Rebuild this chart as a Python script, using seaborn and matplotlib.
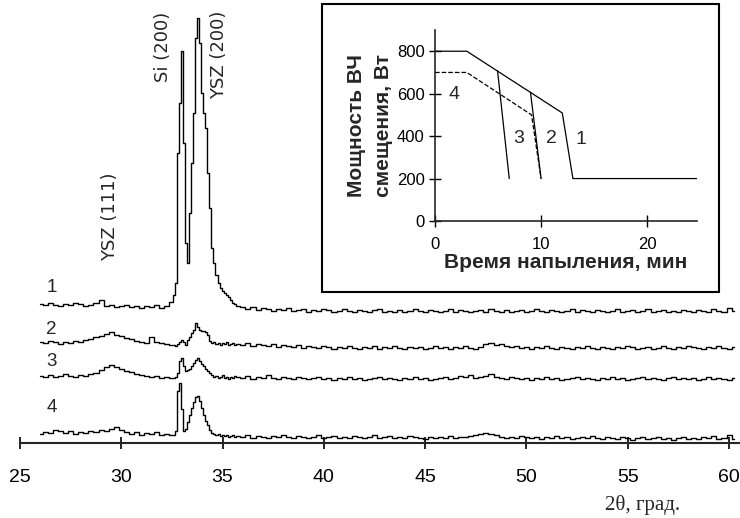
"""
XRD patterns of YSZ films (curves 1-4) with inset: RF bias power vs deposition time.
"""
import numpy as np
import pandas as pd
import matplotlib
matplotlib.use("Agg")
import matplotlib.pyplot as plt
from matplotlib.patches import Rectangle
import seaborn as sns

# ─── 2θ sampling grid ────────────────────────────────────────────────────────
X_LEFT = np.round(np.arange(26.0, 32.51, 0.25), 2)    # 27 points
X_PEAK = np.round(np.arange(32.6, 35.61, 0.1), 2)     # 31 points
X_RIGHT = np.round(np.arange(35.75, 60.26, 0.25), 2)  # 99 points

# ─── Intensities (offset curves, arbitrary units) ────────────────────────────
c1_left = [139, 138, 140, 138, 137, 139, 138, 140, 139, 137,
           138, 140, 143, 137, 138, 136, 137, 138, 136, 137,
           135, 137, 136, 138, 135, 137, 141]
c1_peak = [148, 160, 290, 340, 392, 300, 200, 180, 230, 280,
           330, 405, 425, 400, 350, 330, 315, 270, 235, 195,
           180, 168, 160, 155, 152, 150, 148, 146, 143, 140, 139]
c1_right = [137, 136, 134, 136, 133, 135, 134, 132, 134, 133,
            135, 132, 133, 134, 131, 133, 132, 134, 133, 131,
            132, 134, 132, 131, 133, 132, 131, 133, 134, 131,
            132, 131, 133, 131, 132, 134, 132, 131, 133, 132,
            131, 132, 134, 131, 133, 132, 131, 132, 133, 131,
            134, 132, 131, 133, 131, 132, 133, 131, 132, 134,
            132, 131, 133, 132, 131, 132, 134, 131, 133, 132,
            131, 133, 132, 131, 132, 134, 131, 132, 133, 131,
            132, 134, 131, 132, 133, 131, 132, 131, 133, 132,
            131, 133, 132, 131, 134, 132, 131, 135, 132]

c2_left = [101, 100, 102, 101, 99, 101, 100, 102, 101, 103,
           104, 106, 107, 109, 111, 108, 107, 105, 104, 102,
           101, 100, 106, 101, 100, 99, 98]
c2_peak = [98, 97, 99, 101, 103, 101, 98, 103, 106, 110,
           113, 120, 116, 113, 112, 112, 111, 108, 102, 100,
           101, 99, 100, 98, 100, 99, 101, 98, 99, 100, 98]
c2_right = [99, 98, 100, 97, 99, 98, 97, 99, 96, 98,
            97, 96, 98, 95, 97, 96, 95, 97, 96, 94,
            96, 95, 97, 95, 94, 96, 95, 97, 94, 96,
            95, 97, 95, 94, 96, 95, 96, 94, 95, 97,
            95, 96, 94, 96, 95, 97, 95, 94, 96, 99,
            100, 98, 99, 97, 96, 97, 95, 96, 94, 96,
            95, 97, 95, 94, 96, 95, 94, 96, 95, 97,
            95, 94, 96, 95, 94, 96, 95, 97, 96, 94,
            95, 96, 94, 95, 97, 95, 94, 96, 95, 97,
            96, 95, 94, 96, 95, 97, 95, 94, 96]

c3_left = [67, 66, 68, 66, 67, 69, 67, 66, 68, 67,
           69, 70, 73, 76, 78, 76, 74, 72, 71, 69,
           68, 67, 66, 67, 65, 66, 65]
c3_peak = [65, 66, 70, 82, 85, 77, 72, 73, 74, 77,
           80, 83, 85, 82, 79, 77, 74, 72, 70, 68,
           66, 67, 65, 66, 68, 65, 66, 64, 66, 65, 67]
c3_right = [66, 65, 67, 64, 66, 65, 68, 65, 64, 66,
            65, 64, 66, 65, 64, 65, 66, 64, 65, 63,
            65, 64, 66, 64, 65, 63, 64, 65, 66, 64,
            65, 64, 63, 65, 64, 66, 64, 65, 63, 64,
            65, 66, 64, 65, 67, 66, 68, 65, 66, 67,
            69, 66, 65, 64, 66, 65, 64, 65, 63, 65,
            64, 66, 64, 65, 63, 64, 65, 66, 64, 65,
            64, 63, 65, 64, 66, 64, 65, 63, 64, 65,
            66, 64, 65, 64, 63, 65, 66, 64, 65, 64,
            65, 63, 64, 66, 64, 65, 64, 63, 65]

c4_left = [9, 11, 10, 13, 12, 10, 12, 9, 11, 10,
           12, 11, 13, 12, 14, 16, 13, 11, 9, 11,
           8, 10, 9, 11, 8, 9, 8]
c4_peak = [8, 12, 52, 60, 34, 12, 14, 21, 28, 35,
           41, 46, 47, 42, 35, 28, 22, 18, 13, 10,
           9, 8, 9, 7, 8, 7, 8, 6, 7, 8, 6]
c4_right = [7, 6, 8, 5, 7, 6, 5, 7, 6, 8,
            6, 5, 7, 6, 5, 6, 8, 5, 6, 7,
            5, 6, 5, 7, 6, 5, 6, 8, 5, 6,
            7, 5, 6, 5, 7, 6, 5, 4, 6, 5,
            6, 5, 7, 5, 6, 6, 7, 8, 9, 10,
            9, 8, 6, 5, 6, 5, 7, 6, 5, 6,
            4, 6, 5, 7, 5, 6, 4, 5, 6, 5,
            7, 5, 4, 6, 5, 4, 6, 5, 3, 5,
            6, 4, 5, 6, 4, 5, 3, 5, 6, 4,
            5, 4, 6, 5, 7, 4, 5, 8, 4]

CURVE_NAMES = ["1", "2", "3", "4"]
CURVE_LABEL_Y = [155, 113, 81, 35]

PEAK_NAMES = ["YSZ (111)", "Si (200)", "YSZ (200)"]
PEAK_POS = [29.43, 32.04, 34.8]
PEAK_LABEL_Y = [226, 396, 388]

TICKS_2THETA = [25, 30, 35, 40, 45, 50, 55, 60]

# ─── Inset: RF bias power vs time ────────────────────────────────────────────
t1, p1 = [0, 3, 12, 13, 24.7], [800, 800, 509, 200, 200]
t2, p2 = [9, 10], [607, 200]
t3, p3 = [5.9, 7], [707, 200]
t4, p4 = [0, 3, 9.1, 10], [700, 700, 500, 200]
INSET_NAMES = ["1", "2", "3", "4"]
INSET_LABEL_T = [13.8, 11.0, 7.9, 1.8]
INSET_LABEL_P = [383, 387, 387, 595]

# ─── Style ───────────────────────────────────────────────────────────────────
sns.set_style("white")
plt.rcParams["font.family"] = ["Liberation Sans", "DejaVu Sans"]

W, H = 740, 518
fig = plt.figure(figsize=(W / 100, H / 100), dpi=100)
ax = fig.add_axes([20 / W, 1 - 443 / H, 720 / W, 443 / H])

x_all = np.concatenate([X_LEFT, X_PEAK, X_RIGHT])
frames = []
for name, parts in zip(CURVE_NAMES, [(c1_left, c1_peak, c1_right),
                                     (c2_left, c2_peak, c2_right),
                                     (c3_left, c3_peak, c3_right),
                                     (c4_left, c4_peak, c4_right)]):
    y = np.concatenate([np.array(p, dtype=float) for p in parts])
    frames.append(pd.DataFrame({"two_theta": x_all, "intensity": y, "curve": name}))
xrd = pd.concat(frames, ignore_index=True)

sns.lineplot(data=xrd, x="two_theta", y="intensity", units="curve",
             estimator=None, sort=False, color="black", lw=1.0,
             drawstyle="steps-mid", ax=ax)

ax.set_xlim(25, 60.54)
ax.set_ylim(0, 443)
ax.set_xticks(TICKS_2THETA)
ax.set_yticks([])
ax.set_xlabel("")
ax.set_ylabel("")
sns.despine(ax=ax, left=True)
ax.spines["bottom"].set_linewidth(1.5)
ax.tick_params(axis="x", bottom=True, direction="inout", length=9, width=1.2,
               pad=14, labelsize=14, colors="black")

for name, ly in zip(CURVE_NAMES, CURVE_LABEL_Y):
    ax.text(26.55, ly, name, fontsize=13.5, ha="center", va="center")
for name, px, py in zip(PEAK_NAMES, PEAK_POS, PEAK_LABEL_Y):
    ax.text(px, py, name, rotation=90, fontsize=13, family="DejaVu Sans",
            ha="center", va="center")

fig.text(643 / W, 1 - 505 / H, "2θ, град.", family="Liberation Serif",
         fontsize=15, ha="center", va="center")

# ─── Inset ───────────────────────────────────────────────────────────────────
frame = Rectangle((322 / W, 1 - 292 / H), 397 / W, 288 / H, transform=fig.transFigure,
                  facecolor="white", edgecolor="black", lw=1.5, zorder=1)
fig.add_artist(frame)

ins = fig.add_axes([435 / W, 1 - 221 / H, 262 / W, 191 / H])
ins.set_zorder(2)
ins.patch.set_alpha(0)

for tt, pp, ls in [(t1, p1, "-"), (t2, p2, "-"), (t3, p3, "-"), (t4, p4, "--")]:
    sns.lineplot(x=tt, y=pp, sort=False, estimator=None, color="black",
                 lw=0.9, linestyle=ls, ax=ins)

ins.set_xlim(0, 24.7)
ins.set_ylim(0, 900)
ins.set_xticks([0, 10, 20])
ins.set_yticks([0, 200, 400, 600, 800])
sns.despine(ax=ins)
for s in ["left", "bottom"]:
    ins.spines[s].set_linewidth(1.2)
ins.tick_params(bottom=True, left=True, direction="inout", length=9, width=1.0,
                labelsize=12, colors="black")
ins.tick_params(axis="x", pad=7)
ins.tick_params(axis="y", pad=3)
ins.set_xlabel("Время напыления, мин", fontsize=15, fontweight="bold", labelpad=1)
ins.set_ylabel("Мощность ВЧ\nсмещения, Вт", fontsize=15, fontweight="bold",
               labelpad=3, linespacing=1.5)

for name, lt, lp in zip(INSET_NAMES, INSET_LABEL_T, INSET_LABEL_P):
    ins.text(lt, lp, name, fontsize=14, ha="center", va="center")

fig.savefig("out.png", dpi=100)
plt.close(fig)
